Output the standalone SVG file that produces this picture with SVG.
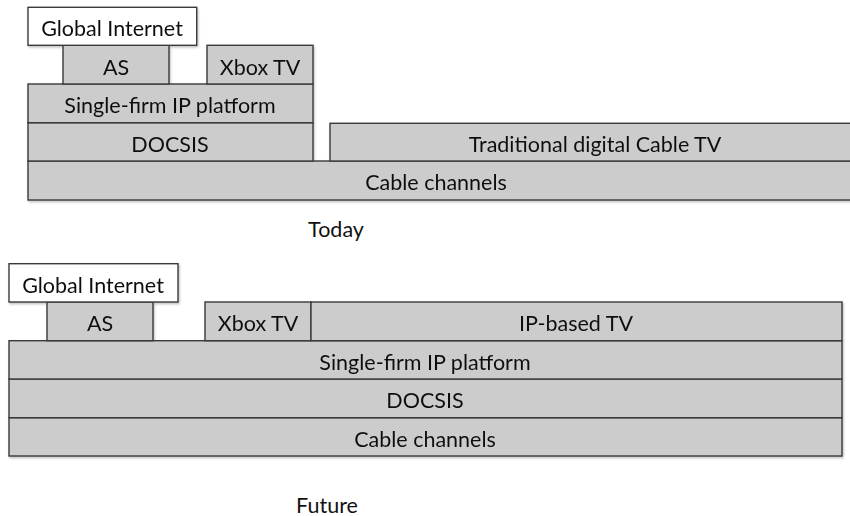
<svg xmlns="http://www.w3.org/2000/svg" width="850" height="516" viewBox="0 0 850 516">
<style>
  .b { fill: #cccccc; stroke: #3a3a3a; stroke-width: 1.4; }
  .w { fill: #ffffff; stroke: #3a3a3a; stroke-width: 1.4; }
  text { font-family: Lato, "Open Sans", "Liberation Sans", sans-serif; font-size: 21.5px; fill: #111; text-anchor: middle; }
</style>
<defs>
  <filter id="sh" x="-5%" y="-20%" width="110%" height="140%">
    <feDropShadow dx="1" dy="1.5" stdDeviation="1" flood-color="#000" flood-opacity="0.25"/>
  </filter>
</defs>
<rect width="850" height="516" fill="#ffffff"/>
<g id="today" filter="url(#sh)">
  <g id="t-cable"><rect class="b" x="28" y="161" width="830" height="39"/><text x="436" y="190">Cable channels</text></g>
  <g id="t-docsis"><rect class="b" x="28" y="122.7" width="285" height="38.3"/><text x="170" y="151.5">DOCSIS</text></g>
  <g id="t-trad"><rect class="b" x="330" y="123.3" width="528" height="37.7"/><text x="595" y="151.5">Traditional digital Cable TV</text></g>
  <g id="t-single"><rect class="b" x="28" y="84" width="285" height="38.7"/><text x="170" y="113">Single-firm IP platform</text></g>
  <g id="t-as"><rect class="b" x="63" y="45.3" width="106" height="38.7"/><text x="116" y="74.5">AS</text></g>
  <g id="t-xbox"><rect class="b" x="207" y="45.3" width="106" height="38.7"/><text x="260" y="74.5">Xbox TV</text></g>
  <g id="t-global"><rect class="w" x="28" y="7.3" width="168.7" height="38"/><text x="112" y="36">Global Internet</text></g>
</g>
<text x="336" y="236.5">Today</text>
<g id="future" filter="url(#sh)">
  <g id="f-cable"><rect class="b" x="9" y="417.7" width="833" height="38.3"/><text x="425" y="446.5">Cable channels</text></g>
  <g id="f-docsis"><rect class="b" x="9" y="379" width="833" height="38.7"/><text x="425" y="408">DOCSIS</text></g>
  <g id="f-single"><rect class="b" x="9" y="340.7" width="833" height="38.3"/><text x="425" y="369.5">Single-firm IP platform</text></g>
  <g id="f-as"><rect class="b" x="47" y="302" width="106" height="38.7"/><text x="100" y="331">AS</text></g>
  <g id="f-xbox"><rect class="b" x="205" y="302" width="106" height="38.7"/><text x="258" y="331">Xbox TV</text></g>
  <g id="f-iptv"><rect class="b" x="311" y="302" width="531" height="38.7"/><text x="576" y="331">IP-based TV</text></g>
  <g id="f-global"><rect class="w" x="9" y="263.7" width="169" height="38.3"/><text x="93" y="292.5">Global Internet</text></g>
</g>
<text x="327" y="512.5">Future</text>
</svg>
